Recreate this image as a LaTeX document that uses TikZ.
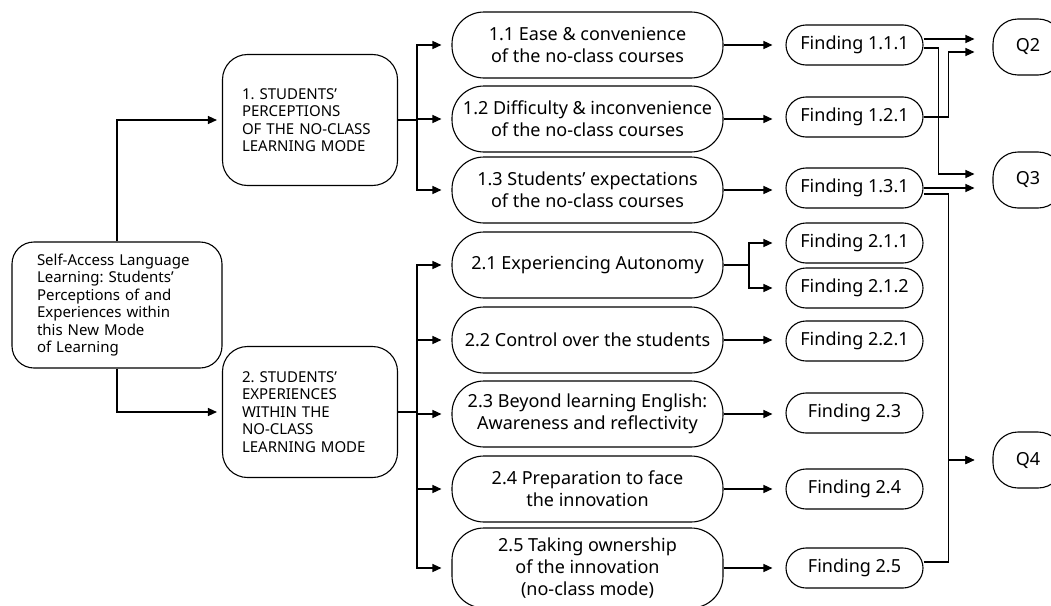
\documentclass[tikz,border=0pt]{standalone}
\usepackage{fontspec}
\setmainfont{Noto Sans}
\usetikzlibrary{arrows.meta,calc,positioning}
\frenchspacing
\tikzstyle{link} = [line width=1.3pt]
\tikzstyle{arrow} = [line width=1.3pt,-{Triangle[length=9pt,width=8pt]}]
\tikzstyle{topic} = [draw, line width=1.1pt, inner sep=0pt, align=left, font=\fontsize{15}{17.5}\selectfont]
\tikzstyle{sub} = [draw, line width=1.1pt, inner sep=0pt, align=center, rounded corners=32pt, minimum width=271pt, minimum height=66pt, font=\fontsize{18}{22}\selectfont]
\tikzstyle{finding} = [draw, line width=1.1pt, inner sep=0pt, rounded corners=20pt, minimum width=137pt, minimum height=40pt, font=\fontsize{18}{22}\selectfont]
\tikzstyle{question} = [draw, line width=1.1pt, inner sep=0pt, rounded corners=25pt, minimum width=70pt, minimum height=56pt, font=\fontsize{18}{22}\selectfont]

\begin{document}
\begin{tikzpicture}[x=1pt,y=-1pt]
\useasboundingbox[fill=white] (0,0) rectangle (1051,605);
% left column
\node[topic, rounded corners=22pt, minimum width=210pt, minimum height=126pt, text width=160pt] (root) at (117,305) {Self-Access Language\\Learning: Students’\\Perceptions of and\\Experiences within\\this New Mode\\of Learning};
\node[topic, rounded corners=25pt, minimum width=175pt, minimum height=131pt, text width=136pt] (p1) at (310,120) {1. STUDENTS’\\PERCEPTIONS\\OF THE NO-CLASS\\LEARNING MODE};
\node[topic, rounded corners=25pt, minimum width=175pt, minimum height=131pt, text width=136pt] (p2) at (310,412) {2. STUDENTS’\\EXPERIENCES\\WITHIN THE\\NO-CLASS\\LEARNING MODE};
% sub-themes
\node[sub] (s11) at (587.5,45) {1.1 Ease \& convenience\\of the no-class courses};
\node[sub] (s12) at (587.5,119) {1.2 Difficulty \& inconvenience\\of the no-class courses};
\node[sub] (s13) at (587.5,190) {1.3 Students’ expectations\\of the no-class courses};
\node[sub] (s21) at (587.5,265) {2.1 Experiencing Autonomy};
\node[sub] (s22) at (587.5,340) {2.2 Control over the students};
\node[sub] (s23) at (587.5,414) {2.3 Beyond learning English:\\Awareness and reflectivity};
\node[sub] (s24) at (587.5,489) {2.4 Preparation to face\\the innovation};
\node[sub, minimum height=80pt] (s25) at (587.5,568) {2.5 Taking ownership\\of the innovation\\(no-class mode)};
% findings
\node[finding] (f111) at (854.5,45) {Finding 1.1.1};
\node[finding] (f121) at (854.5,117) {Finding 1.2.1};
\node[finding] (f131) at (854.5,188) {Finding 1.3.1};
\node[finding] (f211) at (854.5,243) {Finding 2.1.1};
\node[finding] (f212) at (854.5,288) {Finding 2.1.2};
\node[finding] (f221) at (854.5,341) {Finding 2.2.1};
\node[finding] (f23) at (854.5,413) {Finding 2.3};
\node[finding] (f24) at (854.5,489) {Finding 2.4};
\node[finding] (f25) at (854.5,568) {Finding 2.5};
% research questions
\node[question] (q2) at (1028,47) {Q2};
\node[question] (q3) at (1028,180) {Q3};
\node[question] (q4) at (1028,460) {Q4};
% branches
\coordinate (bus1) at (417,120);
\coordinate (bus2) at (417,412);
\coordinate (br21) at (749,265);
\draw[arrow, shorten >=5pt] (root.north) |- (p1.west);
\draw[arrow, shorten >=5pt] (root.south) |- (p2.west);
\foreach \s in {s11,s12,s13}
  \draw[arrow, shorten >=10pt] (p1.east) -- (bus1) |- (\s.west);
\foreach \s in {s21,s22,s23,s24,s25}
  \draw[arrow, shorten >=10pt] (p2.east) -- (bus2) |- (\s.west);
\foreach \s/\f in {s11/f111,s12/f121,s13/f131,s22/f221,s23/f23,s24/f24,s25/f25}
  \draw[arrow, shorten >=13pt] (\s.east) -- (\s.east -| \f.west);
\foreach \f in {f211,f212}
  \draw[arrow, shorten >=13pt] (s21.east) -- (br21) |- (\f.west);
% findings to questions
\draw[arrow, shorten >=18pt] ([yshift=6pt]f111.east) -- ([yshift=6pt]f111.east -| q2.west);
\draw[arrow, shorten >=18pt] ([yshift=-3pt]f111.east) -- ++(15,0) |- ([yshift=6pt]q3.west);
\draw[arrow, shorten >=18pt] (f121.east) -- ++(25,0) |- ([yshift=-5pt]q2.west);
\draw[arrow, shorten >=18pt] (f131.east) -- (f131.east -| q3.west);
\draw[arrow, shorten >=18pt] ([yshift=-6pt]f131.east) -- ++(25,0) |- (q4.west);
\draw[arrow, shorten >=18pt] ([yshift=6pt]f25.east) -- ++(25,0) |- (q4.west);
\end{tikzpicture}
\end{document}
